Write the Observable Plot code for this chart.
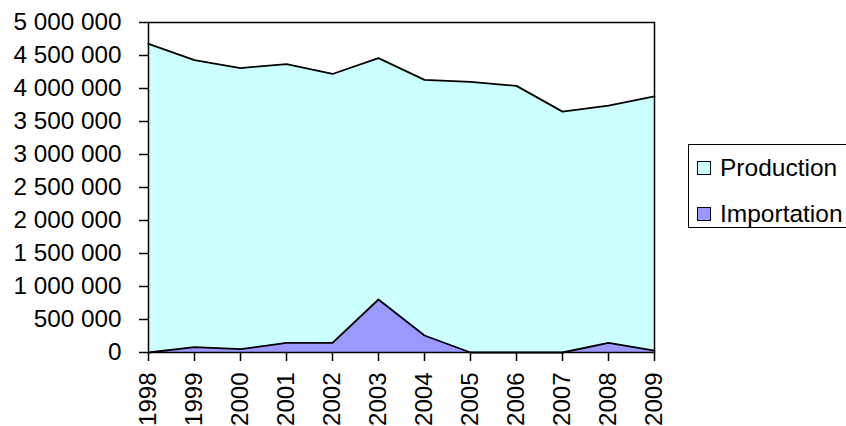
<!DOCTYPE html>
<html>
<head>
<meta charset="utf-8">
<script src="https://cdn.jsdelivr.net/npm/d3@7"></script>
<script src="https://cdn.jsdelivr.net/npm/@observablehq/plot@0.6"></script>
<style>
  html, body { margin: 0; padding: 0; background: #fff; overflow: hidden; }
  #wrap { position: relative; width: 846px; height: 426px; overflow: hidden; }
  #legend {
    position: absolute; left: 688px; top: 144px; width: 175px; height: 84px;
    border: 1.5px solid #000; box-sizing: border-box; background: #fff;
    font-family: "Liberation Sans", Arial, sans-serif; font-size: 24.5px; color: #000;
  }
  .item { position: absolute; left: 8px; display: flex; align-items: center; height: 28px; }
  .sw { width: 12px; height: 12px; border: 1.5px solid #000; margin-right: 9px; }
</style>
</head>
<body>
<div id="wrap">
  <div id="chart"></div>
  <div id="legend"></div>
</div>
<script>
const years = [1998, 1999, 2000, 2001, 2002, 2003, 2004, 2005, 2006, 2007, 2008, 2009];
const production = [4677000, 4430000, 4310000, 4370000, 4220000, 4460000, 4130000, 4100000, 4040000, 3650000, 3740000, 3880000];
const importation = [0, 80000, 50000, 145000, 145000, 803000, 258000, 0, 0, 0, 147000, 30000];
const yTicks = [0, 500000, 1000000, 1500000, 2000000, 2500000, 3000000, 3500000, 4000000, 4500000, 5000000];
const seriesNames = ["Production", "Importation"];
const seriesColors = ["#ccffff", "#9999ff"];

const prodData = years.map((yr, i) => ({year: yr, value: production[i]}));
const impData = years.map((yr, i) => ({year: yr, value: importation[i]}));

const fmt = v => d3.format(",")(v).replace(/,/g, " ");

const chart = Plot.plot({
  width: 846,
  height: 426,
  marginLeft: 148,
  marginRight: 192,
  marginTop: 22,
  marginBottom: 74,
  style: {fontFamily: "'Liberation Sans', Arial, sans-serif", fontSize: "24px", color: "#000", background: "#fff"},
  x: {domain: [1998, 2009], label: null},
  y: {domain: [0, 5000000], label: null},
  marks: [
    Plot.areaY(prodData, {x: "year", y: "value", fill: seriesColors[0]}),
    Plot.lineY(prodData, {x: "year", y: "value", stroke: "#000", strokeWidth: 1.8}),
    Plot.areaY(impData, {x: "year", y: "value", fill: seriesColors[1]}),
    Plot.lineY(impData, {x: "year", y: "value", stroke: "#000", strokeWidth: 1.8}),
    Plot.axisX({ticks: years, tickFormat: "d", tickRotate: -90, tickSize: 9, tickPadding: 11, fontSize: 24, label: null, strokeWidth: 1.5}),
    Plot.axisY({ticks: yTicks, tickFormat: fmt, tickSize: 9, tickPadding: 18, fontSize: 24.3, label: null, strokeWidth: 1.5}),
    Plot.frame({stroke: "#000", strokeWidth: 1.5})
  ]
});
document.getElementById("chart").appendChild(chart);

const legend = document.getElementById("legend");
const tops = [9, 55];
seriesNames.forEach((name, i) => {
  const it = document.createElement("div");
  it.className = "item";
  it.style.top = tops[i] + "px";
  const sw = document.createElement("div");
  sw.className = "sw";
  sw.style.background = seriesColors[i];
  it.appendChild(sw);
  const t = document.createElement("span");
  t.textContent = name;
  it.appendChild(t);
  legend.appendChild(it);
});
</script>
</body>
</html>
